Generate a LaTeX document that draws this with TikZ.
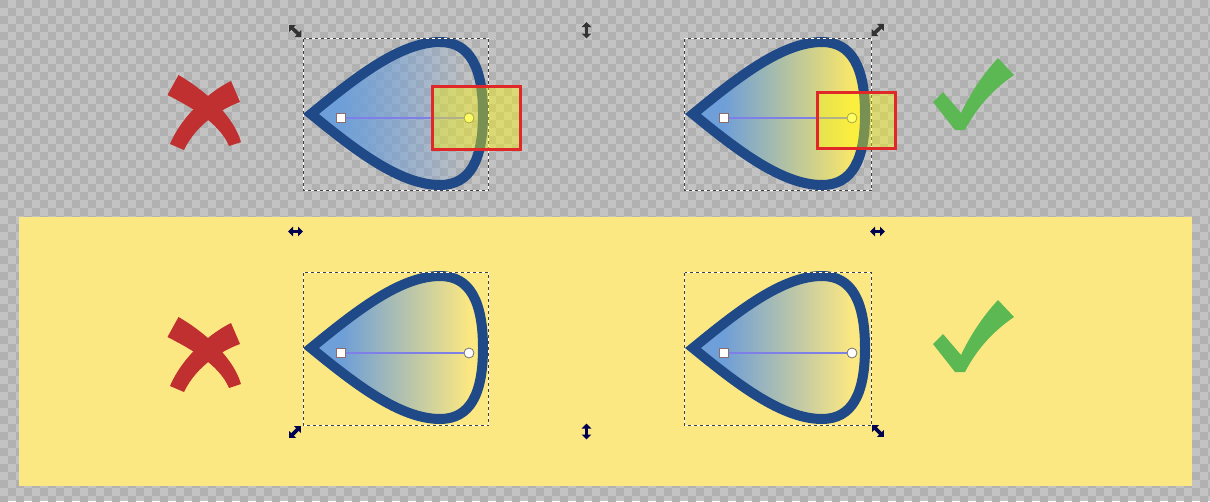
\documentclass[tikz,border=0pt]{standalone}
\usetikzlibrary{arrows.meta,fadings}
\definecolor{chklight}{HTML}{C3C3C3}
\definecolor{chkdark}{HTML}{B1B1B1}
\definecolor{bandyellow}{HTML}{FCE882}
\definecolor{tearstroke}{HTML}{1F4A87}
\definecolor{tearblue}{HTML}{6F9FD8}
\definecolor{tearyellow}{HTML}{F8E66A}
\definecolor{crossred}{HTML}{C03030}
\definecolor{checkgreen}{HTML}{5CB852}
\definecolor{rectred}{HTML}{E02828}
\definecolor{hdark}{HTML}{333333}
\definecolor{hnavy}{HTML}{000050}
\definecolor{gline}{HTML}{7F7FE8}
\definecolor{sqborder}{HTML}{8B6D6D}
\definecolor{ciryellow}{HTML}{FFFFA8}
\pgfdeclarehorizontalshading{tearshadeY}{100bp}{color(0bp)=(tearblue); color(34bp)=(tearblue); color(71bp)=(tearyellow); color(100bp)=(tearyellow)}
\pgfdeclarehorizontalshading{tearfadeshade}{100bp}{color(0bp)=(transparent!0); color(34bp)=(transparent!0); color(71bp)=(transparent!100); color(100bp)=(transparent!100)}
\pgfdeclarefading{tearfade}{\pgfuseshading{tearfadeshade}}
\newcommand{\tearshape}[1]{\path[#1] (311,114) .. controls (355,78) and (400,42) .. (440,42) .. controls (470,42) and (483,68) .. (483,114) .. controls (483,160) and (470,185) .. (440,185) .. controls (400,185) and (355,150) .. cycle;}
\newcommand{\crossmark}{%
  \fill[crossred] (178.5,75) .. controls (201.6,88.2) and (232.8,113.8) .. (241,142) -- (229,146) .. controls (219.2,122.2) and (188.4,105.8) .. (167.5,95) -- cycle;
  \fill[crossred] (231,81) .. controls (212.7,89.9) and (183.2,112.9) .. (170,144) -- (184,150) .. controls (196.8,123.1) and (223.3,108.1) .. (240,102) -- cycle;}
\newcommand{\checkmarkshape}{%
  \fill[checkgreen] (933,102) -- (943,92) -- (961,113) .. controls (972,90) and (985,72) .. (998,58) -- (1014,75) .. controls (995,88) and (978,105) .. (965,130) -- (955,130) -- cycle;}
\tikzset{
  selbox/.style={draw=black!75, line width=0.8pt, dash pattern=on 3pt off 3pt},
  selboxw/.style={draw=white, line width=0.8pt},
  hndT/.style={draw=hdark, line width=3.6pt, {Triangle[length=5pt,width=9.5pt]}-{Triangle[length=5pt,width=9.5pt]}},
  hndB/.style={draw=hnavy, line width=3.6pt, {Triangle[length=5pt,width=9.5pt]}-{Triangle[length=5pt,width=9.5pt]}},
  sqh/.style={draw=sqborder, fill=white, line width=1pt, minimum size=9pt, inner sep=0pt, rectangle},
  cih/.style={draw=black!55, line width=0.8pt, minimum size=10pt, inner sep=0pt, circle},
  gradline/.style={draw=gline, line width=1.2pt},
  hlrect/.style={draw=rectred, line width=3pt, fill={rgb,255:red,255;green,250;blue,0}, fill opacity=0.4},
  tearline/.style={draw=tearstroke, line width=10pt, miter limit=10}
}
\begin{document}
\begin{tikzpicture}[x=1pt,y=-1pt]
\useasboundingbox (0,0) rectangle (1210,501);
\clip (0,0) rectangle (1210,501);
% checkerboard
\fill[chklight] (0,0) rectangle (1210,501);
\foreach \j in {0,...,62}{
  \pgfmathtruncatemacro{\off}{8*mod(\j,2)}
  \foreach \i in {0,...,75}{
    \fill[chkdark] ({16*\i+\off},{8*\j}) rectangle ++(8,8);
  }
}
% yellow band
\fill[bandyellow] (19,217) rectangle (1192,486);

% ---------- top left (wrong) ----------
\tearshape{fill=tearblue, path fading=tearfade}
\tearshape{tearline}
\draw[selboxw] (303.5,38.5) rectangle (488.5,190.5);
\draw[selbox] (303.5,38.5) rectangle (488.5,190.5);
\node[sqh] (s1) at (341,118) {};
\node[cih, fill=ciryellow] (c1) at (469,118) {};
\draw[gradline] (s1) -- (c1);
\path[hlrect] (432.5,86.5) rectangle (520.5,149);
\crossmark

% ---------- top right (right) ----------
\begin{scope}[shift={(382,0)}]
\tearshape{shade, shading=tearshadeY}
\tearshape{tearline}
\end{scope}
\draw[selboxw] (684.5,38.5) rectangle (871.5,190.5);
\draw[selbox] (684.5,38.5) rectangle (871.5,190.5);
\node[sqh] (s2) at (724,118) {};
\node[cih, fill=ciryellow] (c2) at (852,118) {};
\draw[gradline] (s2) -- (c2);
\path[hlrect] (817,92) rectangle (895,148);
\checkmarkshape

% top handles
\coordinate (ha1) at (289,25); \coordinate (ha2) at (301.5,37);
\draw[hndT] (ha1) -- (ha2);
\coordinate (hb1) at (586.5,22); \coordinate (hb2) at (586.5,38.5);
\draw[hndT] (hb1) -- (hb2);
\coordinate (hc1) at (884,24); \coordinate (hc2) at (871.5,36);
\draw[hndT] (hc1) -- (hc2);

% ---------- bottom left ----------
\begin{scope}[shift={(0,234)}]
\tearshape{fill=tearblue, path fading=tearfade}
\tearshape{tearline}
\end{scope}
\draw[selboxw] (303.5,272.5) rectangle (488.5,425.5);
\draw[selbox] (303.5,272.5) rectangle (488.5,425.5);
\node[sqh] (s3) at (341,353) {};
\node[cih, fill=white] (c3) at (469,353) {};
\draw[gradline] (s3) -- (c3);
\begin{scope}[shift={(0,242)}]
\crossmark
\end{scope}

% ---------- bottom right ----------
\begin{scope}[shift={(382,234)}]
\tearshape{fill=tearblue, path fading=tearfade}
\tearshape{tearline}
\end{scope}
\draw[selboxw] (684.5,272.5) rectangle (871.5,425.5);
\draw[selbox] (684.5,272.5) rectangle (871.5,425.5);
\node[sqh] (s4) at (724,353) {};
\node[cih, fill=white] (c4) at (852,353) {};
\draw[gradline] (s4) -- (c4);
\begin{scope}[shift={(0,242)}]
\checkmarkshape
\end{scope}

% bottom handles
\coordinate (hd1) at (288,231.5); \coordinate (hd2) at (303,231.5);
\draw[hndB] (hd1) -- (hd2);
\coordinate (he1) at (870,231.5); \coordinate (he2) at (885,231.5);
\draw[hndB] (he1) -- (he2);
\coordinate (hf1) at (301,426); \coordinate (hf2) at (289,438);
\draw[hndB] (hf1) -- (hf2);
\coordinate (hg1) at (586.5,423.5); \coordinate (hg2) at (586.5,439.5);
\draw[hndB] (hg1) -- (hg2);
\coordinate (hh1) at (872,425); \coordinate (hh2) at (884,437);
\draw[hndB] (hh1) -- (hh2);
\end{tikzpicture}
\end{document}
